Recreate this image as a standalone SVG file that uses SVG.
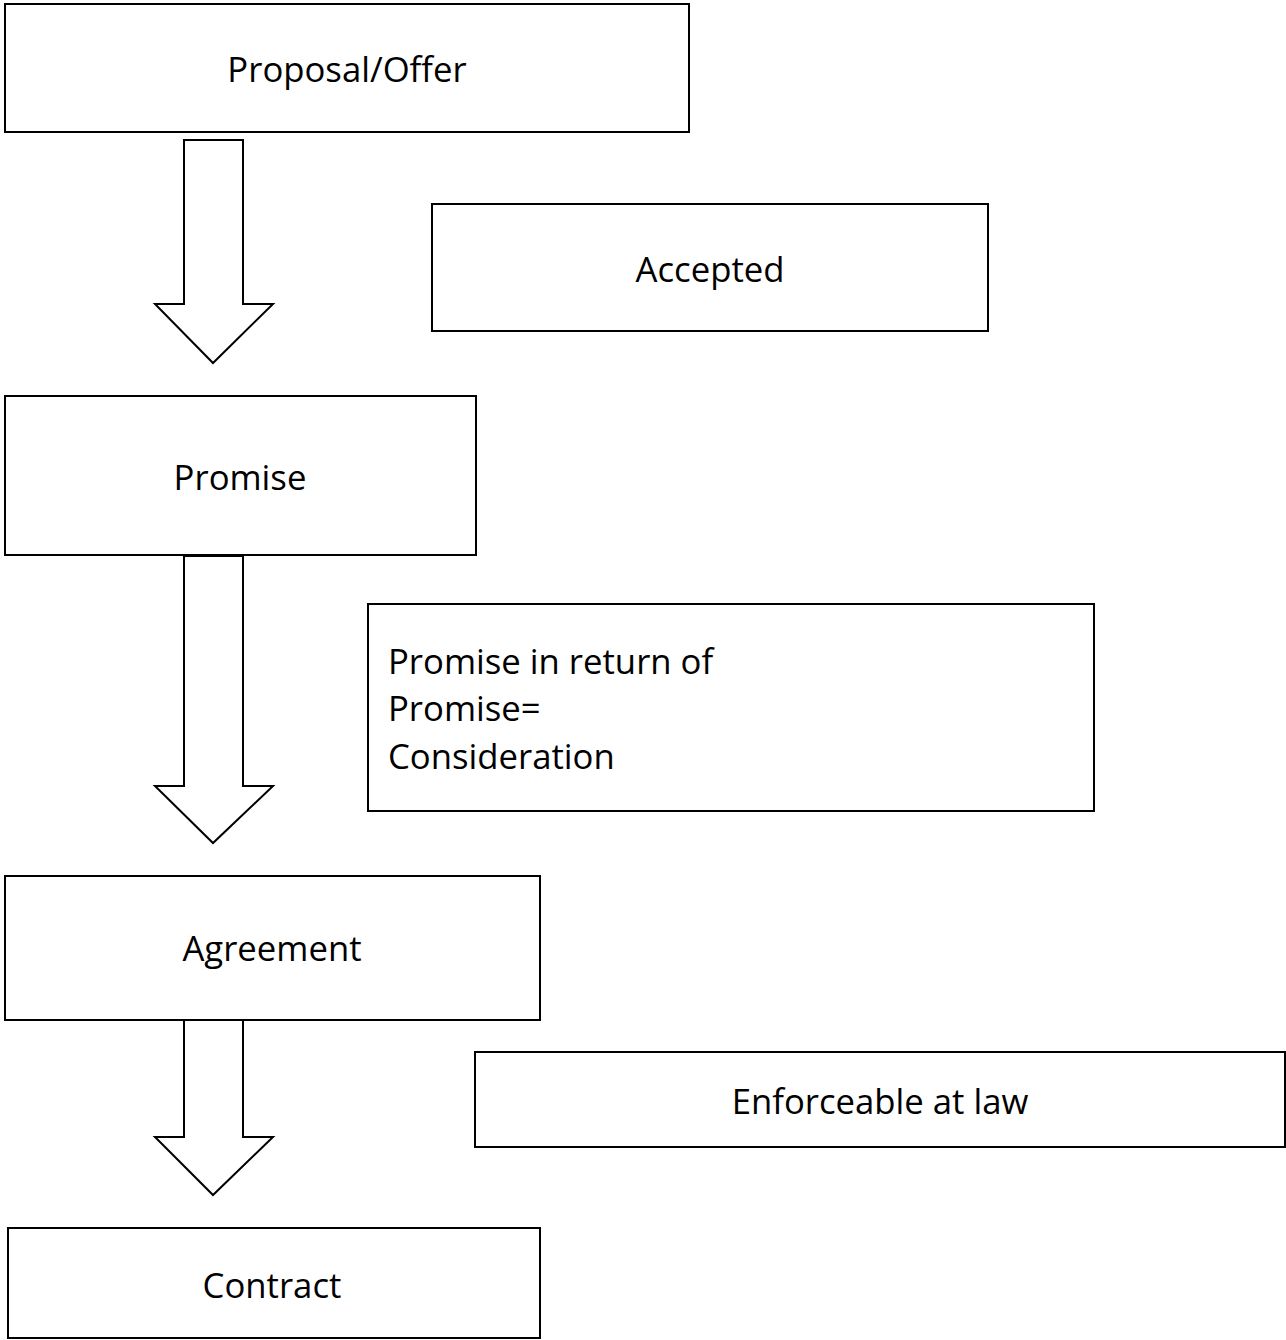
<svg xmlns="http://www.w3.org/2000/svg" width="1286" height="1340" viewBox="0 0 1286 1340">
<style>
.box{fill:#fff;stroke:#000;stroke-width:2}
.arr{fill:#fff;stroke:#000;stroke-width:2;stroke-linejoin:miter}
text{font-family:"Open Sans","Noto Sans",sans-serif;font-size:34.7px;fill:#000}
.c{text-anchor:middle}
</style>
<rect width="1286" height="1340" fill="#fff"/>
<g id="connectors">
<polygon class="arr" points="184,140 243,140 243,304 273,304 213,363 155,304 184,304"/>
<polygon class="arr" points="184,556 243,556 243,786 273,786 213,843 155,786 184,786"/>
<polygon class="arr" points="184,1020 243,1020 243,1137 273,1137 213,1195 155,1137 184,1137"/>
</g>
<g id="proposal"><rect class="box" x="5" y="4" width="684" height="128"/><text class="c" x="347" y="82">Proposal/Offer</text></g>
<g id="accepted"><rect class="box" x="432" y="204" width="556" height="127"/><text class="c" x="710" y="282">Accepted</text></g>
<g id="promise"><rect class="box" x="5" y="396" width="471" height="159"/><text class="c" x="240" y="490">Promise</text></g>
<g id="consideration"><rect class="box" x="368" y="604" width="726" height="207"/><text x="388" y="674">Promise in return of</text><text x="388" y="721">Promise=</text><text x="388" y="769">Consideration</text></g>
<g id="agreement"><rect class="box" x="5" y="876" width="535" height="144"/><text class="c" x="272" y="961">Agreement</text></g>
<g id="enforceable"><rect class="box" x="475" y="1052" width="810" height="95"/><text class="c" x="880" y="1114">Enforceable at law</text></g>
<g id="contract"><rect class="box" x="8" y="1228" width="532" height="110"/><text class="c" x="272" y="1298">Contract</text></g>
</svg>
